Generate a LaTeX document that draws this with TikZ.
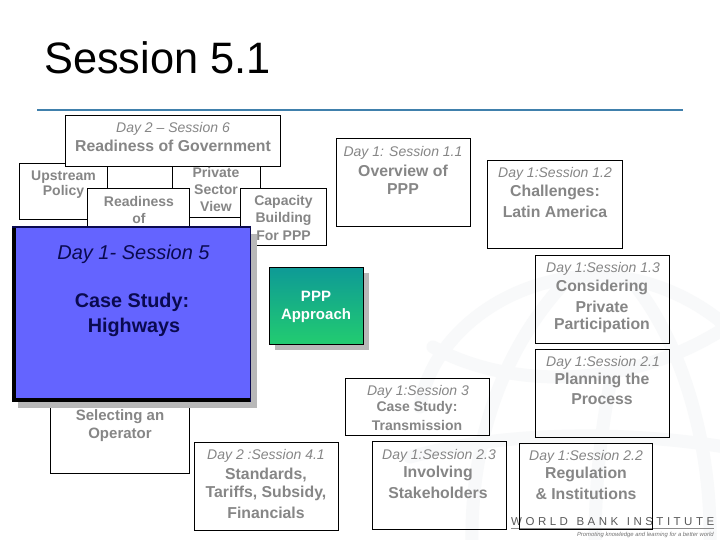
\documentclass[tikz,border=0pt]{standalone}
\usepackage{fontspec}
\setmainfont{Liberation Sans}
\definecolor{txtgray}{HTML}{868686}
\definecolor{wm}{HTML}{F8F9FA}
\definecolor{rulecol}{HTML}{4080AC}
\definecolor{bluefill}{HTML}{6464FF}
\definecolor{navy}{HTML}{0A0A50}
\definecolor{shadowgray}{HTML}{B8B8B8}
\definecolor{ppptop}{HTML}{0E9A96}
\definecolor{pppbot}{HTML}{22CC70}
\newcommand{\fs}[1]{\fontsize{#1}{#1}\selectfont}
\tikzset{
  x=1pt,y=-1pt,
  boxw/.style={draw=black,line width=0.9pt,fill=white,inner sep=0,anchor=north west},
  boxn/.style={draw=black,line width=0.9pt,inner sep=0,anchor=north west},
  day/.style={text=txtgray,font=\fs{14}\itshape,inner sep=0,anchor=center,yshift=-1.2pt},
  head/.style={text=txtgray,font=\fs{15.8}\bfseries,inner sep=0,anchor=center,align=center,yshift=-0.5pt},
  small/.style={text=txtgray,font=\fs{14}\bfseries,inner sep=0,anchor=center,align=center,yshift=-1.3pt},
  shade box/.style={fill=shadowgray,draw=none,inner sep=0,anchor=north west},
  wmline/.style={draw=wm,line width=13pt,line cap=round}
}
\newcommand{\bx}[6]{\node[#1,minimum width=#4pt,minimum height=#5pt] (#2) at (#3) {#6};}
\begin{document}
\begin{tikzpicture}
\useasboundingbox (0,0) rectangle (720,540);
\fill[white] (0,0) rectangle (720,540);
% globe watermark
\begin{scope}
\clip (0,0) rectangle (720,540);
\draw[wmline] (420,407) .. controls (430,340) and (500,280) .. (590,276) .. controls (640,274) and (690,295) .. (725,325);
\draw[wmline] (567,280) .. controls (510,340) and (470,430) .. (472,545);
\draw[wmline] (633,283) .. controls (680,340) and (712,440) .. (710,545);
\draw[wmline] (433,347) .. controls (500,385) and (620,395) .. (725,328);
\draw[wmline] (410,457) .. controls (500,432) and (620,430) .. (725,447);
\draw[wmline] (613,370) .. controls (600,430) and (595,490) .. (595,545);
\end{scope}
% logo
\node[inner sep=0,anchor=west,text=black!65,font=\fs{11.5}] (logo) at (511,521.5)
  {W\hspace{3.5pt}O\hspace{3.5pt}R\hspace{3.5pt}L\hspace{3.5pt}D\hspace{8.5pt}B\hspace{3.5pt}A\hspace{3.5pt}N\hspace{3.5pt}K\hspace{8.5pt}I\hspace{3.5pt}N\hspace{3.5pt}S\hspace{3.5pt}T\hspace{3.5pt}I\hspace{3.5pt}T\hspace{3.5pt}U\hspace{3.5pt}T\hspace{3.5pt}E};
\coordinate (ruleA) at (511,528.5);
\coordinate (ruleB) at (714,528.5);
\draw[black!45,line width=0.6pt] (ruleA) -- (ruleB);
\node[inner sep=0,anchor=east,text=black!55,font=\fs{5.9}\itshape] (tag) at (714,534.5) {Promoting knowledge and learning for a better world};
% title + rule
\node[inner sep=0,anchor=base west,text=black,font=\fs{44},xscale=0.985] (title) at (44,74) {Session 5.1};
\coordinate (r1) at (37,110);
\coordinate (r2) at (683,110);
\draw[rulecol,line width=1.8pt] (r1) -- (r2);
% left group
\bx{boxw}{upstream}{19,163}{88}{56}{}
\bx{boxw}{private}{172,163}{88}{54}{}
\bx{boxw}{readiness}{87,188}{102}{60}{}
\bx{boxw}{capacity}{240,188}{86}{57}{}
\bx{boxw}{gov}{65,115}{215}{51}{}
\node[small] (t1) at (63.5,175.5) {Upstream};
\node[small] (t2) at (63.5,191) {Policy};
\node[small] (t3) at (139,200.5) {Readiness};
\node[small] (t4) at (139,217) {of};
\node[small] (t5) at (216,171.5) {Private};
\node[small] (t6) at (216,188) {Sector};
\node[small] (t7) at (216,205) {View};
\node[small] (t8) at (283.5,200.5) {Capacity};
\node[small] (t9) at (283.5,217.5) {Building};
\node[small] (t10) at (283.5,234.5) {For PPP};
\node[day] (t11) at (173,127.5) {Day 2 – Session 6};
\node[head] (t12) at (173,145.5) {Readiness of Government};
% selecting
\bx{boxw}{select}{50,380}{139}{93}{}
\node[head,font=\fs{15}\bfseries] (t13) at (120,416) {Selecting an};
\node[head,font=\fs{15}\bfseries] (t14) at (120,434.5) {Operator};
% blue box
\bx{shade box}{blueshadow}{18,234}{239}{174}{}
\node[draw=none,fill=bluefill,inner sep=0,anchor=north west,minimum width=239pt,minimum height=176pt] (blue) at (12,226) {};
\draw[black,line width=4pt] ([xshift=2pt]blue.north west) -- ([xshift=2pt]blue.south west);
\draw[black,line width=4pt] ([yshift=2pt]blue.south west) -- ([yshift=2pt]blue.south east);
\draw[navy,line width=2pt] ([yshift=-1pt]blue.north west) -- ([yshift=-1pt]blue.north east);
\draw[navy,line width=1pt] ([xshift=-.5pt]blue.north east) -- ([xshift=-.5pt]blue.south east);
\node[inner sep=0,text=navy,font=\fs{20}\itshape] (t15) at (133.5,254.5) {Day 1- Session 5};
\node[inner sep=0,text=navy,font=\fs{19.8}\bfseries] (t16) at (132,302) {Case Study:};
\node[inner sep=0,text=navy,font=\fs{19.8}\bfseries] (t17) at (134,327) {Highways};
% PPP
\bx{shade box}{pppshadow}{275,273}{94}{77}{}
\node[draw=black,line width=0.9pt,inner sep=0,anchor=north west,minimum width=94pt,minimum height=77pt,top color=ppptop,bottom color=pppbot] (ppp) at (269,267) {};
\node[inner sep=0,text=white,font=\fs{15}\bfseries] (t18) at (316,296) {PPP};
\node[inner sep=0,text=white,font=\fs{15}\bfseries] (t19) at (316,316) {Approach};
% right boxes
\bx{boxn}{s11}{336,138}{134}{88}{}
\node[day] (a1) at (403,151.5) {Day 1: Session 1.1};
\node[head] (a2) at (403,170) {Overview of};
\node[head] (a3) at (403,189) {PPP};
\bx{boxn}{s12}{487,160}{135}{88}{}
\node[day] (b1) at (555,173) {Day 1:Session 1.2};
\node[head] (b2) at (555,191.5) {Challenges:};
\node[head] (b3) at (555,211) {Latin America};
\bx{boxn}{s13}{535,255}{134}{88}{}
\node[day] (c1) at (603,268) {Day 1:Session 1.3};
\node[head] (c2) at (602,287) {Considering};
\node[head] (c3) at (602,306) {Private};
\node[head] (c4) at (602,325) {Participation};
\bx{boxn}{s21}{535,349}{134}{88}{}
\node[day] (d1) at (603,361.5) {Day 1:Session 2.1};
\node[head] (d2) at (602,380) {Planning the};
\node[head] (d3) at (602,399) {Process};
\bx{boxn}{s3}{345,378}{144}{57}{}
\node[day] (e1) at (418,390.5) {Day 1:Session 3};
\node[small] (e2) at (417,407) {Case Study:};
\node[small] (e3) at (417,424) {Transmission};
\bx{boxn}{s23}{372,441}{134}{88}{}
\node[day] (f1) at (439,454.5) {Day 1:Session 2.3};
\node[head] (f2) at (438,473) {Involving};
\node[head] (f3) at (438,492) {Stakeholders};
\bx{boxn}{s22}{519,443}{133}{86}{}
\node[day] (h1) at (586,455.5) {Day 1:Session 2.2};
\node[head] (h2) at (586,474) {Regulation};
\node[head] (h3) at (586,493) {\& Institutions};
\bx{boxn}{s41}{194,442}{144}{88}{}
\node[day] (k1) at (266,455) {Day 2 :Session 4.1};
\node[head] (k2) at (266,474) {Standards,};
\node[head] (k3) at (266,493) {Tariffs, Subsidy,};
\node[head] (k4) at (266,512) {Financials};
\end{tikzpicture}
\end{document}
